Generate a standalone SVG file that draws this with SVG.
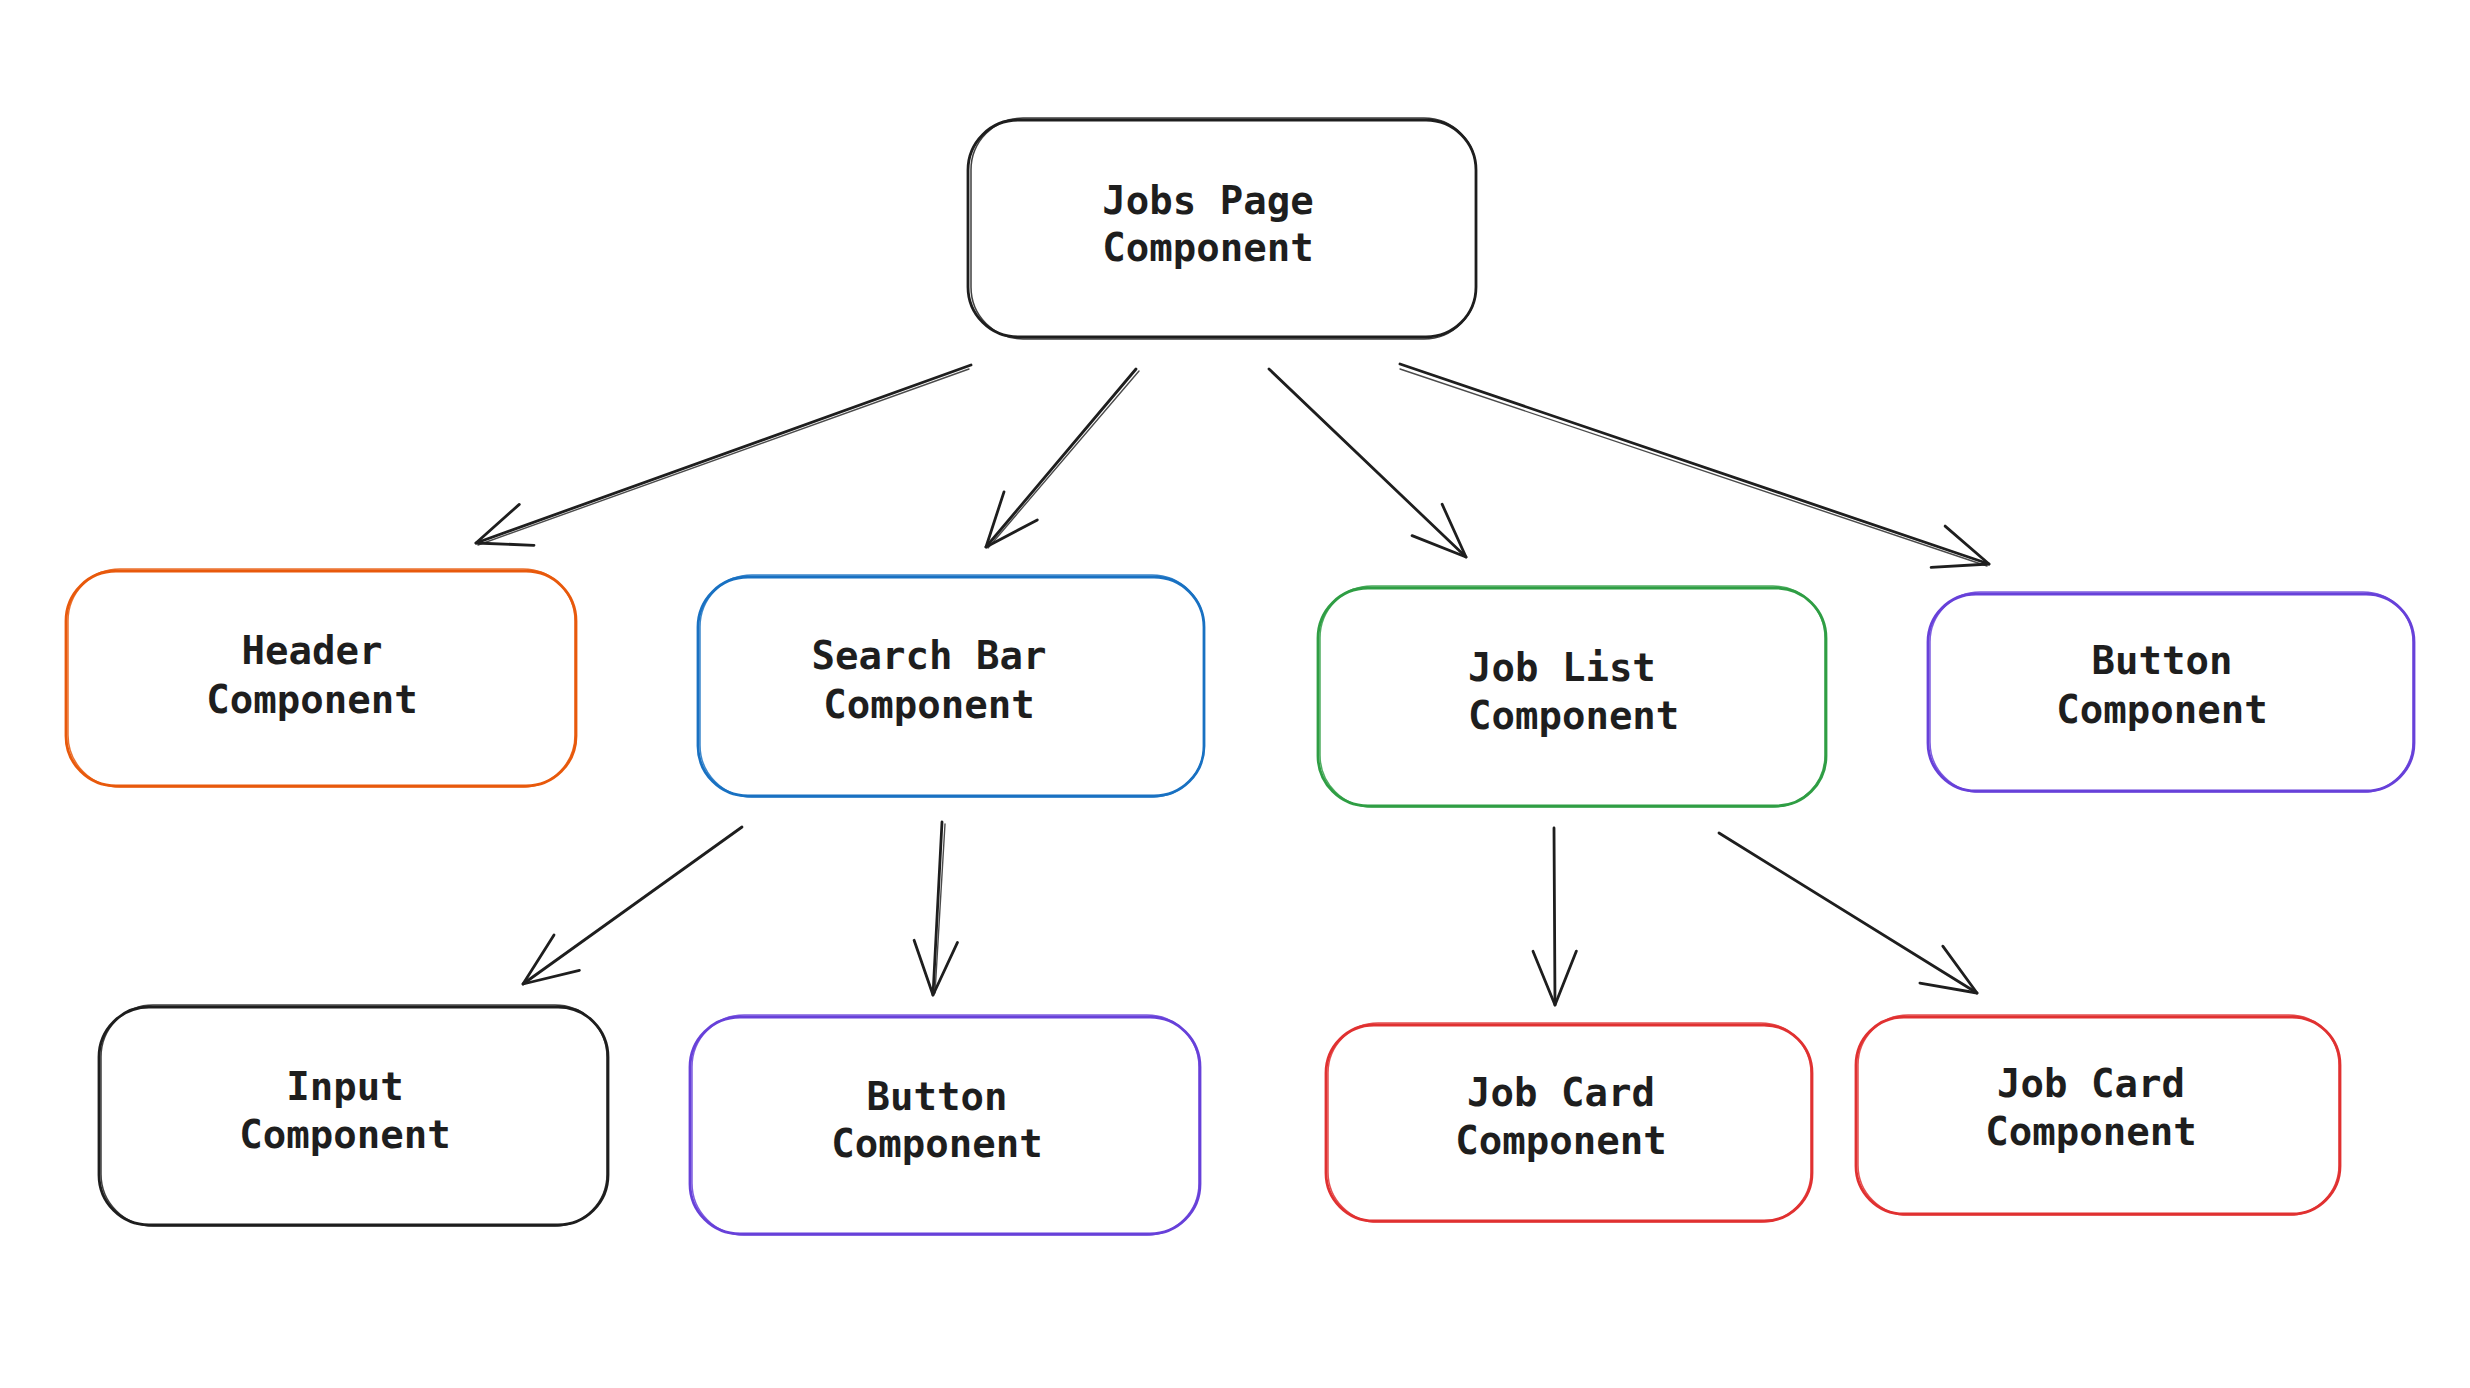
<svg xmlns="http://www.w3.org/2000/svg" width="2470" height="1388" viewBox="0 0 2470 1388">
<style>
  .bg { fill: #ffffff; }
  .box { fill: none; stroke-width: 2.8; stroke-linecap: round; }
  .box2 { fill: none; stroke-width: 1.5; stroke-linecap: round; opacity: 0.85; }
  .lbl { font-family: "DejaVu Sans Mono", "Liberation Mono", monospace; font-size: 39px; font-weight: bold; fill: #1e1e1e; dominant-baseline: central; }
  .mid { text-anchor: middle; }
  .start { text-anchor: start; }
  .edge { fill: none; stroke: #1e1e1e; stroke-width: 2.8; stroke-linecap: round; stroke-linejoin: round; }
  .edge2 { fill: none; stroke: #1e1e1e; stroke-width: 1.4; stroke-linecap: round; opacity: 0.8; }
  .k { stroke: #1e1e1e; }
  .o { stroke: #e8590c; }
  .b { stroke: #1971c2; }
  .g { stroke: #2f9e44; }
  .v { stroke: #6741d9; }
  .r { stroke: #e03131; }
</style>
<rect class="bg" x="0" y="0" width="2470" height="1388"/>

<g id="connectors">
  <g id="e-jobs-header"><path class="edge" d="M971,365 L476,543"/><path class="edge2" d="M969,369 L478,545"/><path class="edge" d="M519.3,504.4 L476,543 L534,545.3"/></g>
  <g id="e-jobs-search"><path class="edge" d="M1136,369 L986,547"/><path class="edge2" d="M1139,371 L988,548"/><path class="edge" d="M1004,491.9 L986,547 L1037.3,519.9"/></g>
  <g id="e-jobs-joblist"><path class="edge" d="M1269,369 L1466,557"/><path class="edge" d="M1442.1,504.2 L1466,557 L1412.1,535.6"/></g>
  <g id="e-jobs-button"><path class="edge" d="M1400,364 L1989,564"/><path class="edge2" d="M1400,369 L1987,566"/><path class="edge" d="M1945.1,526.1 L1989,564 L1931.1,567.3"/></g>
  <g id="e-search-input"><path class="edge" d="M742,827 L523,984"/><path class="edge" d="M554,935 L523,984 L579.4,970.3"/></g>
  <g id="e-search-button"><path class="edge" d="M942,822 L933,995"/><path class="edge2" d="M945,824 L935,993"/><path class="edge" d="M914.1,940.2 L933,995 L957.5,942.4"/></g>
  <g id="e-joblist-card1"><path class="edge" d="M1554,828 L1555,1005"/><path class="edge" d="M1533,951.3 L1555,1005 L1576.4,951.1"/></g>
  <g id="e-joblist-card2"><path class="edge" d="M1719,833 L1977,993"/><path class="edge" d="M1942.8,946.2 L1977,993 L1919.9,983.1"/></g>
</g>

<g id="node-jobs-page">
  <rect class="box k" x="968" y="120" width="508" height="217" rx="50"/>
  <rect class="box2 k" x="971" y="118" width="505" height="221" rx="52"/>
  <text class="lbl mid" x="1208" y="200">Jobs Page</text>
  <text class="lbl mid" x="1208" y="247">Component</text>
</g>

<g id="node-header">
  <rect class="box o" x="66" y="571" width="510" height="215" rx="50"/>
  <rect class="box2 o" x="68" y="569" width="507" height="218" rx="52"/>
  <text class="lbl mid" x="312" y="650">Header</text>
  <text class="lbl mid" x="312" y="699">Component</text>
</g>

<g id="node-search-bar">
  <rect class="box b" x="698" y="577" width="506" height="219" rx="50"/>
  <rect class="box2 b" x="700" y="575" width="504" height="222" rx="52"/>
  <text class="lbl mid" x="929" y="655">Search Bar</text>
  <text class="lbl mid" x="929" y="704">Component</text>
</g>

<g id="node-job-list">
  <rect class="box g" x="1318" y="588" width="508" height="218" rx="50"/>
  <rect class="box2 g" x="1320" y="586" width="505" height="221" rx="52"/>
  <text class="lbl start" x="1468" y="667">Job List</text>
  <text class="lbl start" x="1468" y="715">Component</text>
</g>

<g id="node-button-top">
  <rect class="box v" x="1928" y="594" width="486" height="197" rx="48"/>
  <rect class="box2 v" x="1930" y="592" width="483" height="200" rx="50"/>
  <text class="lbl mid" x="2162" y="660">Button</text>
  <text class="lbl mid" x="2162" y="709">Component</text>
</g>

<g id="node-input">
  <rect class="box k" x="99" y="1007" width="509" height="218" rx="50"/>
  <rect class="box2 k" x="101" y="1005" width="506" height="221" rx="52"/>
  <text class="lbl mid" x="345" y="1086">Input</text>
  <text class="lbl mid" x="345" y="1134">Component</text>
</g>

<g id="node-button-bottom">
  <rect class="box v" x="690" y="1017" width="510" height="217" rx="50"/>
  <rect class="box2 v" x="692" y="1015" width="507" height="220" rx="52"/>
  <text class="lbl mid" x="937" y="1096">Button</text>
  <text class="lbl mid" x="937" y="1143">Component</text>
</g>

<g id="node-job-card-1">
  <rect class="box r" x="1326" y="1025" width="486" height="196" rx="48"/>
  <rect class="box2 r" x="1328" y="1023" width="483" height="199" rx="50"/>
  <text class="lbl mid" x="1561" y="1092">Job Card</text>
  <text class="lbl mid" x="1561" y="1140">Component</text>
</g>

<g id="node-job-card-2">
  <rect class="box r" x="1856" y="1017" width="484" height="197" rx="48"/>
  <rect class="box2 r" x="1858" y="1015" width="481" height="200" rx="50"/>
  <text class="lbl mid" x="2091" y="1083">Job Card</text>
  <text class="lbl mid" x="2091" y="1131">Component</text>
</g>
</svg>
